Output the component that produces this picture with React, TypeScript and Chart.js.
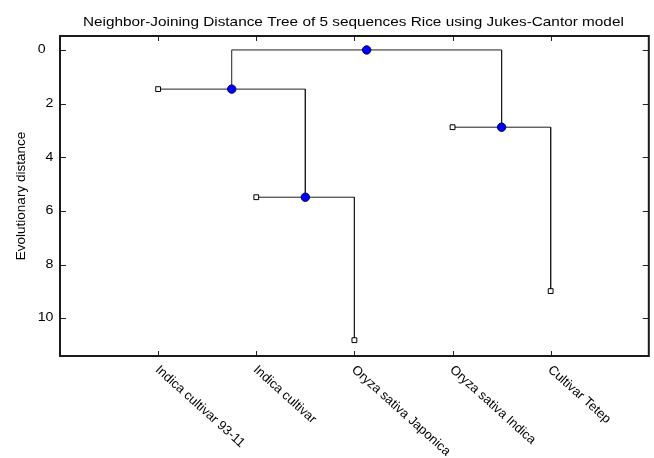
import React, { useEffect, useRef } from 'react';
import { Chart, registerables } from 'chart.js';

Chart.register(...registerables);

const chartTitle = 'Neighbor-Joining Distance Tree of 5 sequences Rice using Jukes-Cantor model';
const yAxisTitle = 'Evolutionary distance';

// leaves (sequences)
const leafLabels = [
  'Indica cultivar 93-11',
  'Indica cultivar',
  'Oryza sativa Japonica',
  'Oryza sativa Indica',
  'Cultivar Tetep',
];
const leafPositions = [1, 2, 3, 4, 5];
const leafDistances = [1.46, 5.49, 10.82, 2.88, 8.99];

// internal (joining) nodes
const nodePositions = [3.125, 1.75, 2.5, 4.5];
const nodeDistances = [0, 1.46, 5.49, 2.88];
const nodeChildren = [
  ['n1', 'n3'],
  ['l0', 'n2'],
  ['l1', 'l2'],
  ['l3', 'l4'],
];

const yTickValues = [0, 2, 4, 6, 8, 10];
const yTickLabels = ['0\u2007', '2', '4', '6', '8', '10'];

const X_MIN = 0;
const X_MAX = 6;
const Y_MIN = -0.52;
const Y_MAX = 11.41;

const FAMILY = '"Liberation Sans", Arial, Helvetica, sans-serif';

function pointOf(ref: string) {
  const i = Number(ref.slice(1));
  return ref[0] === 'l'
    ? { x: leafPositions[i], y: leafDistances[i] }
    : { x: nodePositions[i], y: nodeDistances[i] };
}

const frameAndText = {
  id: 'frameAndText',
  afterDraw(chart: any) {
    const { ctx, chartArea, scales } = chart;
    const { left, right, top, bottom } = chartArea;
    const xs = scales.x;
    const ys = scales.y;
    ctx.save();
    // inward ticks
    ctx.strokeStyle = '#222';
    ctx.lineWidth = 1;
    ctx.beginPath();
    leafPositions.forEach((v) => {
      const px = Math.round(xs.getPixelForValue(v)) + 0.5;
      ctx.moveTo(px, top);
      ctx.lineTo(px, top + 5);
      ctx.moveTo(px, bottom);
      ctx.lineTo(px, bottom - 5);
    });
    yTickValues.forEach((v) => {
      const py = Math.round(ys.getPixelForValue(v)) + 0.5;
      ctx.moveTo(left, py);
      ctx.lineTo(left + 6, py);
      ctx.moveTo(right, py);
      ctx.lineTo(right - 6, py);
    });
    ctx.stroke();
    // frame
    ctx.lineWidth = 2;
    ctx.strokeStyle = '#1a1a1a';
    ctx.strokeRect(left, top, right - left, bottom - top);

    ctx.fillStyle = '#000';

    // title
    ctx.save();
    ctx.font = '13px ' + FAMILY;
    ctx.translate((left + right) / 2 - 1, 26);
    ctx.scale(1.18, 1);
    ctx.textAlign = 'center';
    ctx.textBaseline = 'alphabetic';
    ctx.fillText(chartTitle, 0, 0);
    ctx.restore();

    // y tick labels
    yTickValues.forEach((v, i) => {
      const py = ys.getPixelForValue(v);
      ctx.save();
      ctx.font = '12px ' + FAMILY;
      ctx.translate(left - 6.5, py);
      ctx.scale(1.18, 1);
      ctx.textAlign = 'right';
      ctx.textBaseline = 'middle';
      ctx.fillText(yTickLabels[i], 0, 0);
      ctx.restore();
    });

    // y axis title
    ctx.save();
    ctx.font = '13.5px ' + FAMILY;
    ctx.translate(24.5, (top + bottom) / 2);
    ctx.rotate(-Math.PI / 2);
    ctx.textAlign = 'center';
    ctx.textBaseline = 'alphabetic';
    ctx.fillText(yAxisTitle, 0, 0);
    ctx.restore();

    // x tick labels (rotated)
    leafPositions.forEach((v, i) => {
      const px = xs.getPixelForValue(v);
      ctx.save();
      ctx.font = '13px ' + FAMILY;
      ctx.translate(px - 1, bottom + 12);
      ctx.rotate((42 * Math.PI) / 180);
      ctx.textAlign = 'left';
      ctx.textBaseline = 'middle';
      ctx.fillText(leafLabels[i], 0, 0);
      ctx.restore();
    });
    ctx.restore();
  },
};

export default function App() {
  const canvasRef = useRef<HTMLCanvasElement | null>(null);

  useEffect(() => {
    const canvas = canvasRef.current;
    if (!canvas) return;

    const branchSets = nodeChildren.map((children, k) => {
      const a = pointOf(children[0]);
      const b = pointOf(children[1]);
      const ny = nodeDistances[k];
      return {
        type: 'scatter' as const,
        data: [a, { x: a.x, y: ny }, { x: b.x, y: ny }, b],
        showLine: true,
        borderColor: '#1e1e1e',
        borderWidth: 1,
        pointRadius: 0,
        pointHoverRadius: 0,
        tension: 0,
        order: 3,
      };
    });

    const chart = new Chart(canvas, {
      type: 'scatter',
      data: {
        datasets: [
          ...branchSets,
          {
            type: 'scatter',
            data: leafPositions.map((x, i) => ({ x, y: leafDistances[i] })),
            pointStyle: 'rect',
            pointRadius: 3.4,
            backgroundColor: '#ffffff',
            borderColor: '#000000',
            borderWidth: 1,
            order: 2,
          },
          {
            type: 'scatter',
            data: nodePositions.map((x, i) => ({ x, y: nodeDistances[i] })),
            pointStyle: 'circle',
            pointRadius: 4.2,
            backgroundColor: '#0000ff',
            borderColor: '#00005a',
            borderWidth: 1,
            order: 1,
          },
        ] as any,
      },
      options: {
        animation: false,
        responsive: false,
        maintainAspectRatio: false,
        layout: { padding: { left: 60, right: 4, top: 36, bottom: 102 } },
        plugins: {
          legend: { display: false },
          title: { display: false },
          tooltip: { enabled: false },
        },
        scales: {
          x: {
            type: 'linear',
            min: X_MIN,
            max: X_MAX,
            display: false,
          },
          y: {
            type: 'linear',
            min: Y_MIN,
            max: Y_MAX,
            reverse: true,
            display: false,
          },
        },
      },
      plugins: [frameAndText],
    });

    return () => chart.destroy();
  }, []);

  return (
    <div style={{ position: 'fixed', left: 0, top: 0, width: 654, height: 458, background: '#fff' }}>
      <canvas ref={canvasRef} width={654} height={458} style={{ display: 'block' }} />
    </div>
  );
}
